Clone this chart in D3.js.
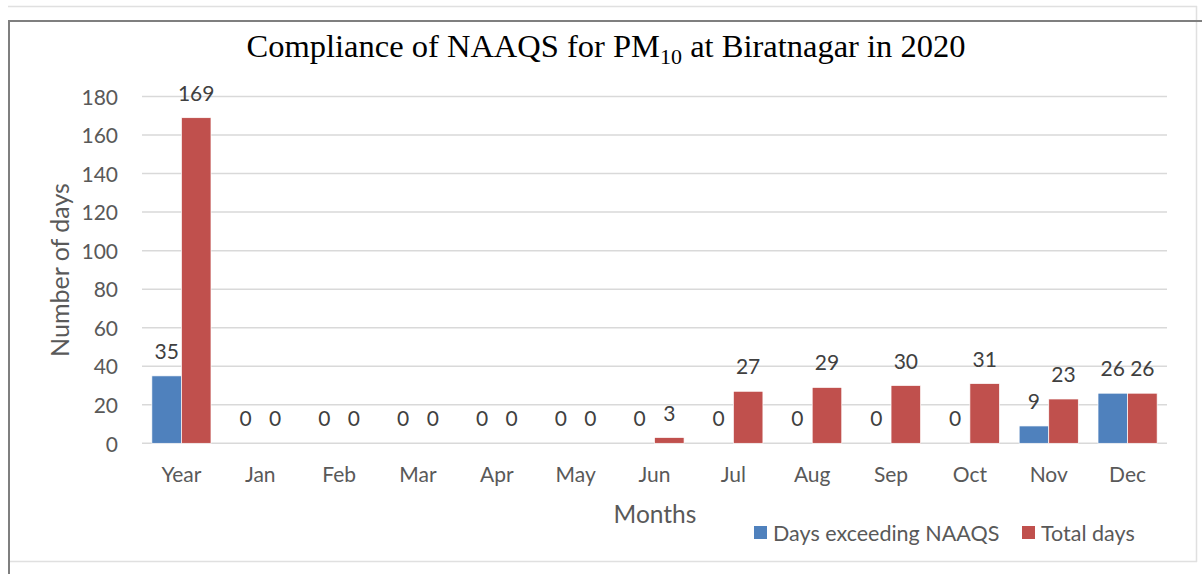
<!DOCTYPE html>
<html>
<head>
<meta charset="utf-8">
<script src="https://cdn.jsdelivr.net/npm/d3@7"></script>
<style>
  body { margin: 0; background: #fff; }
  text { font-family: Lato, "Open Sans", sans-serif; }
</style>
</head>
<body>
<div id="chart"></div>
<script>
// chart values
var categories = ['Year', 'Jan', 'Feb', 'Mar', 'Apr', 'May', 'Jun', 'Jul', 'Aug', 'Sep', 'Oct', 'Nov', 'Dec'];
var exceeding = [35, 0, 0, 0, 0, 0, 0, 0, 0, 0, 0, 9, 26];
var totalDays = [169, 0, 0, 0, 0, 0, 3, 27, 29, 30, 31, 23, 26];
var seriesNames = ['Days exceeding NAAQS', 'Total days'];
var yTicks = [0, 20, 40, 60, 80, 100, 120, 140, 160, 180];

var colors = ['#4f81bd', '#c0504d'];

var width = 1202,
    height = 574;

var svg = d3.select('#chart').append('svg')
    .attr('width', width)
    .attr('height', height);

// frame lines
svg.append('line').attr('x1', 8).attr('x2', 1197).attr('y1', 6.5).attr('y2', 6.5)
    .style('stroke', '#e0e0e0').style('stroke-width', 1.5);
svg.append('line').attr('x1', 1196.5).attr('x2', 1196.5).attr('y1', 6).attr('y2', 562)
    .style('stroke', '#e0e0e0').style('stroke-width', 1.5);
svg.append('line').attr('x1', 9).attr('x2', 1197).attr('y1', 561.5).attr('y2', 561.5)
    .style('stroke', '#e0e0e0').style('stroke-width', 1.5);
svg.append('line').attr('x1', 8).attr('x2', 1202).attr('y1', 21).attr('y2', 21)
    .style('stroke', '#7f7f7f').style('stroke-width', 2);
svg.append('line').attr('x1', 9).attr('x2', 9).attr('y1', 20).attr('y2', 574)
    .style('stroke', '#7f7f7f').style('stroke-width', 2);

var plot = {left: 142, right: 1167, top: 96.5, bottom: 443.3};

var x = d3.scaleBand()
    .domain(categories)
    .range([plot.left, plot.right])
    .paddingInner(0.25)
    .paddingOuter(0.125);

var xs = d3.scaleBand()
    .domain([0, 1])
    .range([0, x.bandwidth()]);

var y = d3.scaleLinear()
    .domain([0, 180])
    .range([plot.bottom, plot.top]);

// gridlines
svg.append('g')
    .selectAll('line')
    .data(yTicks)
    .enter().append('line')
    .attr('x1', plot.left)
    .attr('x2', plot.right)
    .attr('y1', function(d) { return y(d); })
    .attr('y2', function(d) { return y(d); })
    .style('stroke', '#d9d9d9')
    .style('stroke-width', 1.5);

// y axis labels
var yAxis = d3.axisLeft(y).tickValues(yTicks).tickSize(0).tickPadding(0);
var gy = svg.append('g')
    .attr('transform', 'translate(118,1)')
    .call(yAxis);
gy.select('.domain').remove();
gy.selectAll('text')
    .style('font-family', 'Lato, sans-serif')
    .style('font-size', '21px')
    .style('fill', '#595959');

// x axis labels
var xAxis = d3.axisBottom(x).tickSize(0).tickPadding(0);
var gx = svg.append('g')
    .attr('transform', 'translate(0,' + 467 + ')')
    .call(xAxis);
gx.select('.domain').remove();
gx.selectAll('text')
    .style('font-family', 'Lato, sans-serif')
    .style('font-size', '21px')
    .style('fill', '#595959');

// bars
var rows = categories.map(function(c, i) {
    return {cat: c, vals: [exceeding[i], totalDays[i]]};
});

var group = svg.selectAll('.grp')
    .data(rows)
    .enter().append('g')
    .attr('class', 'grp')
    .attr('transform', function(d) { return 'translate(' + x(d.cat) + ',0)'; });

group.selectAll('rect')
    .data(function(d) { return d.vals; })
    .enter().append('rect')
    .attr('x', function(d, i) { return xs(i); })
    .attr('width', xs.bandwidth())
    .attr('y', function(d) { return y(d); })
    .attr('height', function(d) { return plot.bottom - y(d); })
    .style('fill', function(d, i) { return colors[i]; })
    .style('stroke', '#fff')
    .style('stroke-width', 0.7);

group.selectAll('text')
    .data(function(d) { return d.vals; })
    .enter().append('text')
    .attr('x', function(d, i) { return xs(i) + xs.bandwidth() / 2; })
    .attr('y', function(d) { return y(d) - 17; })
    .attr('text-anchor', 'middle')
    .style('font-size', '21px')
    .style('fill', '#404040')
    .text(function(d) { return d; });

// title
var title = svg.append('text')
    .attr('x', 606)
    .attr('y', 57)
    .attr('text-anchor', 'middle')
    .style('font-family', '"Liberation Serif", "DejaVu Serif", serif')
    .style('font-size', '32.5px')
    .style('fill', '#000');
title.append('tspan').text('Compliance of NAAQS for PM');
title.append('tspan').attr('dy', 7).style('font-size', '22px').text('10');
title.append('tspan').attr('dy', -7).text(' at Biratnagar in 2020');

// axis titles
svg.append('text')
    .attr('transform', 'translate(69,270) rotate(-90)')
    .attr('text-anchor', 'middle')
    .style('font-size', '25px')
    .style('fill', '#595959')
    .text('Number of days');

svg.append('text')
    .attr('x', 655)
    .attr('y', 523)
    .attr('text-anchor', 'middle')
    .style('font-size', '24.5px')
    .style('fill', '#595959')
    .text('Months');

// legend
var legendX = [754, 1022];
var legend = svg.selectAll('.leg')
    .data(seriesNames)
    .enter().append('g')
    .attr('class', 'leg')
    .attr('transform', function(d, i) { return 'translate(' + legendX[i] + ',526)'; });
legend.append('rect')
    .attr('width', 13)
    .attr('height', 13)
    .style('fill', function(d, i) { return colors[i]; });
legend.append('text')
    .attr('x', 19)
    .attr('y', 14.5)
    .style('font-size', '21.5px')
    .style('fill', '#595959')
    .text(function(d) { return d; });
</script>
</body>
</html>
